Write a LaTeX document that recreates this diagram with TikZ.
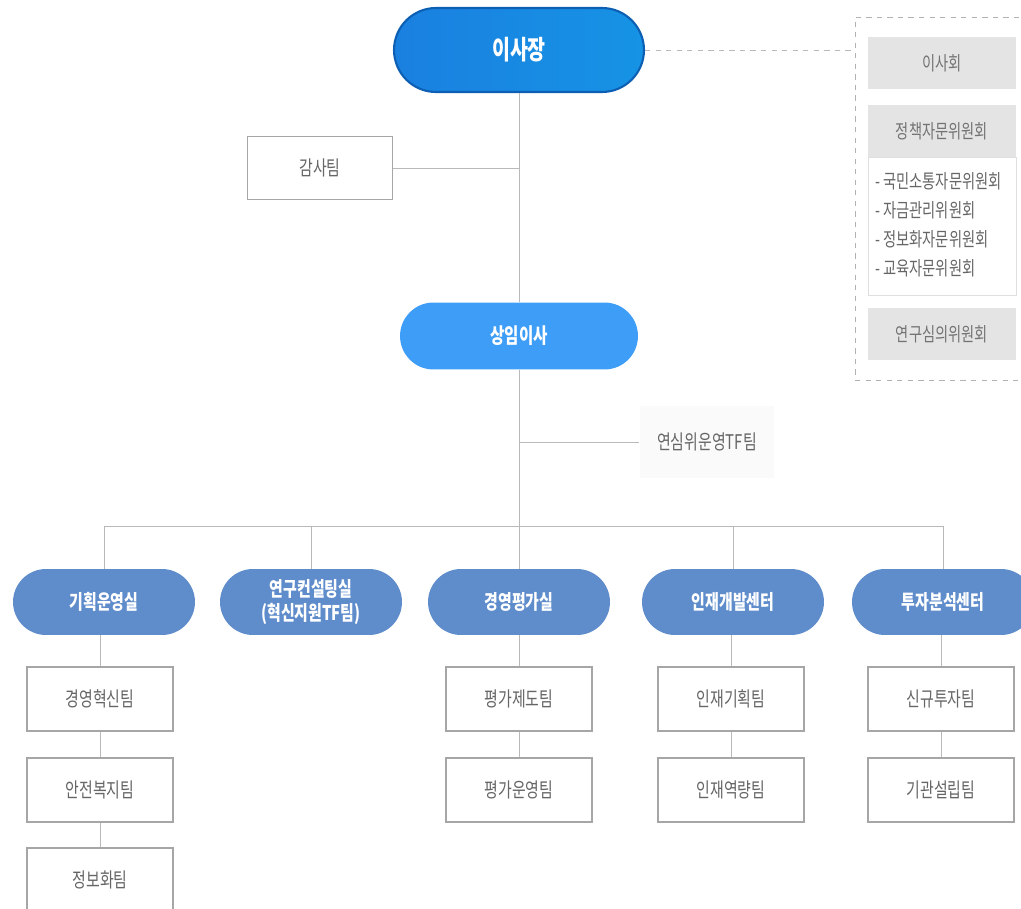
\documentclass[tikz,border=0pt]{standalone}
\usepackage{fontspec}
\setmainfont{Noto Sans CJK KR}[FakeStretch=0.74]
\usetikzlibrary{positioning}

\definecolor{ceoblue}{HTML}{1A80E0}
\definecolor{ceoedge}{HTML}{0D5FB3}
\definecolor{subblue}{HTML}{3E9DF6}
\definecolor{deptblue}{HTML}{5F8CCB}
\definecolor{txtgray}{HTML}{666666}
\definecolor{boxgray}{HTML}{E4E4E4}

\begin{document}
\begin{tikzpicture}[x=0.02cm, y=-0.02cm,
    pill/.style={rounded corners=0.66cm, minimum width=3.64cm, minimum height=1.32cm,
        fill=deptblue, text=white, align=center,
        font=\fontsize{11.5}{14}\bfseries\selectfont},
    team/.style={draw=gray!70, line width=1.1pt, fill=white, minimum width=2.92cm,
        minimum height=1.28cm, text=txtgray, font=\fontsize{11.5}{13}\selectfont},
    grayitem/.style={fill=boxgray, minimum width=2.96cm, minimum height=1.06cm,
        text=gray!90!black, font=\fontsize{11}{13}\selectfont},
    link/.style={draw=gray!55, line width=0.5pt}]
    \useasboundingbox (0,0) rectangle (1021,909);
    \clip (0,0) rectangle (1021,909);

    % Top: chairman and committees
    \node[rounded corners=0.84cm, minimum width=5cm, minimum height=1.68cm,
        left color=ceoblue, right color=ceoblue!85!cyan, draw=ceoedge, line width=1.2pt,
        text=white, font=\fontsize{15}{17}\bfseries\selectfont] (ceo) at (519,50) {이사장};

    \node[draw=gray!60, dashed, minimum width=3.6cm, minimum height=7.26cm] (board) at (945,198.5) {};
    \node[grayitem] (bod) at (942,63) {이사회};
    \node[grayitem] (policy) at (942,131) {정책자문위원회};
    \node[draw=gray!25, fill=white, minimum width=2.96cm, minimum height=2.76cm] (sublist) at (942,226) {};
    \node[anchor=west, align=left, text=txtgray, font=\fontsize{11}{16.6}\selectfont]
        (items) at (869,225) {- 국민소통자문위원회\\- 자금관리위원회\\- 정보화자문위원회\\- 교육자문위원회};
    \node[grayitem] (review) at (942,334) {연구심의위원회};

    \draw[link, dashed] (ceo.east) -- (ceo.east -| board.west);

    % Audit and standing director
    \node[team, minimum width=2.9cm, minimum height=1.26cm] (audit) at (320,168) {감사팀};
    \node[pill, rounded corners=0.67cm, minimum width=4.76cm, minimum height=1.34cm, fill=subblue,
        font=\fontsize{12}{14}\bfseries\selectfont] (exec) at (519,336) {상임이사};
    \node[fill=gray!4, minimum width=2.7cm, minimum height=1.46cm, text=txtgray,
        font=\fontsize{11.5}{13}\selectfont] (tf) at (707,442) {연심위운영TF팀};

    \draw[link] (ceo) -- (exec);
    \draw[link] (audit.east) -- (audit.east -| exec.north);
    \coordinate (bus) at (519,526);
    \draw[link] (exec) -- (bus);
    \draw[link] (tf.west) -- (tf.west -| bus);

    % Departments
    \node[pill] (plan) at (104,602) {기획운영실};
    \node[pill] (consult) at (311,602) {연구컨설팅실\\(혁신지원TF팀)};
    \node[pill] (eval) at (519,602) {경영평가실};
    \node[pill] (hrd) at (733,602) {인재개발센터};
    \node[pill] (invest) at (943,602) {투자분석센터};

    \foreach \d in {plan, consult, eval, hrd, invest}
        \draw[link] (\d.north) |- (bus);

    % Teams
    \node[team] (innov) at (100,699) {경영혁신팀};
    \node[team] (safety) at (100,790) {안전복지팀};
    \node[team] (info) at (100,880) {정보화팀};
    \node[team] (evalsys) at (519,699) {평가제도팀};
    \node[team] (evalop) at (519,790) {평가운영팀};
    \node[team] (hrplan) at (731,699) {인재기획팀};
    \node[team] (hrcap) at (731,790) {인재역량팀};
    \node[team] (newinv) at (941,699) {신규투자팀};
    \node[team] (found) at (941,790) {기관설립팀};

    \draw[link] (plan.south -| innov) -- (innov) -- (safety) -- (info);
    \draw[link] (eval) -- (evalsys) -- (evalop);
    \draw[link] (hrd.south -| hrplan) -- (hrplan) -- (hrcap);
    \draw[link] (invest.south -| newinv) -- (newinv) -- (found);
\end{tikzpicture}
\end{document}
